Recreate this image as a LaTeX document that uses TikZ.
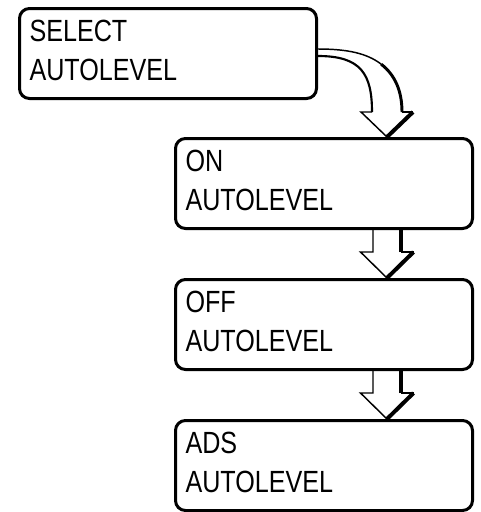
\documentclass[tikz,border=0pt]{standalone}
\usepackage{fontspec}
\setmainfont{Liberation Sans}[FakeStretch=0.82]
\usetikzlibrary{calc}

\tikzset{
    panel/.style={draw, line width=2.25pt, rounded corners=7.5pt,
        minimum width=222.75pt, minimum height=67.5pt,
        text width=207.75pt, inner xsep=7.5pt, align=left, text depth=34pt,
        font=\fontsize{23pt}{28.9pt}\selectfont},
    thinline/.style={line width=1.1pt},
    shadeline/.style={line width=3pt}
}

% straight block arrow: #1 = box above, #2 = box below
\newcommand{\fatarrow}[2]{%
    \coordinate (s) at ($(#1.south)+(63,0)$);
    \coordinate (t) at ($(#2.north)+(63,0)$);
    \draw[thinline] (s) ++(-14,0) -- ($(t)+(-14,-26)$) -- ($(t)+(-26.5,-26)$) -- (t);
    \draw[thinline] ($(t)+(26.5,-26)$) -- ($(t)+(14,-26)$);
    \draw[shadeline] (t) -- ($(t)+(26.5,-26)$);
    \draw[shadeline] ($(t)+(14,-26)$) -- ($(s)+(14,0)$);
}

\begin{document}
\begin{tikzpicture}[x=0.75pt, y=-0.75pt]
    \useasboundingbox (0,0) rectangle (481,512);

    % Display screens
    \node[panel] (select) at (168,53.5) {SELECT\\AUTOLEVEL};
    \node[panel] (on)     at (324,183.5) {ON\\AUTOLEVEL};
    \node[panel] (off)    at (324,324.5) {OFF\\AUTOLEVEL};
    \node[panel] (ads)    at (324,465.5) {ADS\\AUTOLEVEL};

    % Curved arrow from the first screen down to ON
    \coordinate (tip) at ($(on.north)+(63,0)$);
    \coordinate (bend) at ($(tip)+(-5.8,-72.8)$);
    \draw[thinline] ($(select.east)+(0,-4.5)$) .. controls +(29.25,0) and +(-14.1,-10.95) .. (bend);
    \draw[line width=2.2pt] (bend) .. controls +(14.05,10.9) and +(0,-20.75) .. ($(tip)+(15,-25)$);
    \draw[line width=1.6pt] ($(select.east)+(0,2.5)$) .. controls +(43,0) and +(0,-38) .. ($(tip)+(-15,-25)$);
    \draw[thinline] ($(tip)+(-15,-25)$) -- ($(tip)+(-26,-25)$) -- (tip);
    \draw[thinline] ($(tip)+(26,-25)$) -- ($(tip)+(15,-25)$);
    \draw[shadeline] (tip) -- ($(tip)+(26,-25)$);

    % Straight arrows between the lower screens
    \foreach \a/\b in {on/off, off/ads} \fatarrow{\a}{\b};

\end{tikzpicture}
\end{document}
